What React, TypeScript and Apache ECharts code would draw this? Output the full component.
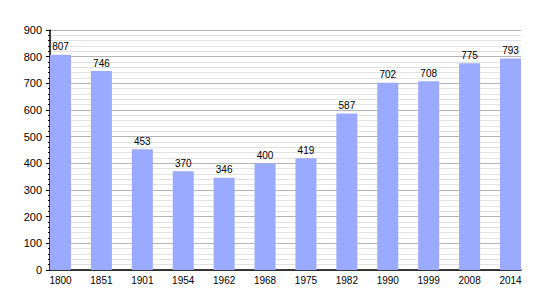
import React, { useEffect, useRef } from "react";
import * as echarts from "echarts";

const years = ["1800", "1851", "1901", "1954", "1962", "1968", "1975", "1982", "1990", "1999", "2008", "2014"];
const population = [807, 746, 453, 370, 346, 400, 419, 587, 702, 708, 775, 793];

const FONT = "'Liberation Sans', Arial, sans-serif";

export default function App() {
  const ref = useRef<HTMLDivElement>(null);
  useEffect(() => {
    document.body.style.margin = "0";
    if (!ref.current) return;
    const chart = echarts.init(ref.current, undefined, { renderer: "svg" });
    chart.setOption({
      animation: false,
      backgroundColor: "#ffffff",
      textStyle: { fontFamily: FONT },
      grid: [
        { left: 60.5, right: 39.5, top: 30, bottom: 30 },
        { left: 50, right: 29, top: 30, bottom: 30 },
      ],
      xAxis: [
        {
          gridIndex: 0,
          type: "category",
          data: years,
          boundaryGap: false,
          axisLine: { show: false },
          axisTick: { show: false },
          axisLabel: { color: "#000", fontSize: 10, margin: 5, fontFamily: FONT },
          splitLine: { show: false },
        },
        {
          gridIndex: 1,
          type: "value",
          min: 0,
          max: 1,
          axisLine: { show: true, onZero: false, lineStyle: { color: "#000", width: 1.5 } },
          axisTick: { show: false },
          axisLabel: { show: false },
          splitLine: { show: false },
        },
      ],
      yAxis: [
        {
          gridIndex: 0,
          type: "value",
          min: 0,
          max: 900,
          show: false,
          splitLine: { show: false },
        },
        {
          gridIndex: 1,
          type: "value",
          min: 0,
          max: 900,
          interval: 100,
          axisLine: { show: true, lineStyle: { color: "#000", width: 1.5 } },
          axisTick: { show: true, length: 4, lineStyle: { color: "#000" } },
          minorTick: { show: true, splitNumber: 5, length: 2, lineStyle: { color: "#000" } },
          axisLabel: { color: "#000", fontSize: 11, margin: 8, fontFamily: FONT },
          splitLine: { show: true, lineStyle: { color: "#b4b4b4", width: 1 } },
          minorSplitLine: { show: true, lineStyle: { color: "#e2e2e2", width: 1 } },
        },
      ],
      series: [
        {
          type: "bar",
          xAxisIndex: 0,
          yAxisIndex: 0,
          data: population,
          barWidth: 21,
          itemStyle: { color: "#99aaff" },
          label: { show: true, position: "top", distance: 3, color: "#000", fontSize: 10, fontFamily: FONT },
          z: 3,
        },
      ],
    });
    return () => chart.dispose();
  }, []);
  return <div ref={ref} style={{ width: 550, height: 300 }} />;
}
